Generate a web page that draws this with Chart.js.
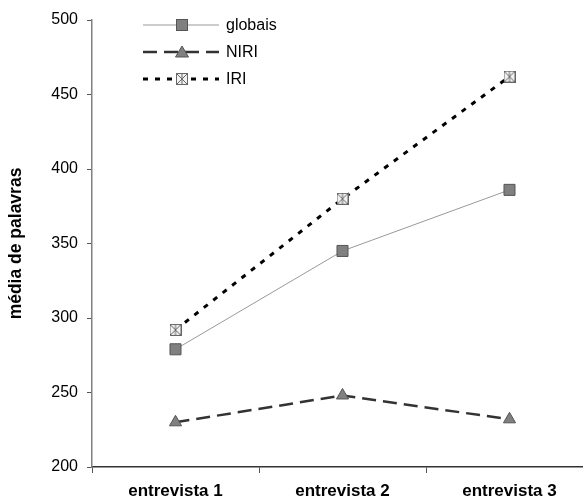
<!DOCTYPE html>
<html>
<head>
<meta charset="utf-8">
<script src="https://cdn.jsdelivr.net/npm/chart.js@4.4.0/dist/chart.umd.min.js"></script>
<style>
  html, body { margin: 0; padding: 0; background: #fff; overflow: hidden; }
  #wrap { width: 602px; height: 503px; }
</style>
</head>
<body>
<div id="wrap"><canvas id="myChart" width="602" height="503"></canvas></div>
<script>
var categories = ['entrevista 1', 'entrevista 2', 'entrevista 3'];
var globais = [279, 345, 386];
var niri = [230, 248, 232];
var iri = [292, 380, 462];
var yTicks = [200, 250, 300, 350, 400, 450, 500];

var FONT = '"Liberation Sans", Arial, sans-serif';

// square with a cross inside, used for IRI
function crossBox() {
    var c = document.createElement('canvas');
    c.width = 12; c.height = 12;
    var g = c.getContext('2d');
    g.fillStyle = '#f2f2f2';
    g.fillRect(0, 0, 12, 12);
    g.strokeStyle = '#666';
    g.lineWidth = 1;
    g.strokeRect(0.5, 0.5, 11, 11);
    g.beginPath();
    g.moveTo(1, 1); g.lineTo(11, 11);
    g.moveTo(11, 1); g.lineTo(1, 11);
    g.moveTo(6, 1); g.lineTo(6, 11);
    g.stroke();
    return c;
}
var iriMarker = crossBox();

// legend drawn as line + marker + text, like the original
var lineLegend = {
    id: 'lineLegend',
    afterDraw: function (chart) {
        var ctx = chart.ctx;
        var rows = [25, 52, 79];
        chart.data.datasets.forEach(function (ds, i) {
            var y = rows[i];
            ctx.save();
            ctx.strokeStyle = ds.borderColor;
            ctx.lineWidth = ds.borderWidth;
            ctx.setLineDash(ds.borderDash || []);
            ctx.beginPath();
            ctx.moveTo(143, y);
            ctx.lineTo(219, y);
            ctx.stroke();
            ctx.setLineDash([]);
            ctx.fillStyle = ds.pointBackgroundColor;
            ctx.strokeStyle = ds.pointBorderColor;
            ctx.lineWidth = 1;
            if (ds.pointStyle === 'rect') {
                ctx.fillRect(176.5, y - 5.5, 11, 11);
                ctx.strokeRect(176.5, y - 5.5, 11, 11);
            } else if (ds.pointStyle === 'triangle') {
                ctx.beginPath();
                ctx.moveTo(182, y - 6);
                ctx.lineTo(188.5, y + 5);
                ctx.lineTo(175.5, y + 5);
                ctx.closePath();
                ctx.fill();
                ctx.stroke();
            } else {
                ctx.drawImage(iriMarker, 176, y - 6);
            }
            ctx.fillStyle = '#000';
            ctx.font = '16px ' + FONT;
            ctx.textBaseline = 'middle';
            ctx.fillText(ds.label, 226, y + 1);
            ctx.restore();
        });
    }
};

var ctx = document.getElementById('myChart').getContext('2d');
var myChart = new Chart(ctx, {
    type: 'line',
    data: {
        labels: categories,
        datasets: [{
            label: 'globais',
            data: globais,
            borderColor: '#999999',
            borderWidth: 1,
            pointStyle: 'rect',
            pointRadius: 7.8,
            pointBackgroundColor: '#808080',
            pointBorderColor: '#555555',
            pointBorderWidth: 1
        }, {
            label: 'NIRI',
            data: niri,
            borderColor: '#333333',
            borderWidth: 2.5,
            borderDash: [14, 7],
            pointStyle: 'triangle',
            pointRadius: 7,
            pointBackgroundColor: '#808080',
            pointBorderColor: '#555555',
            pointBorderWidth: 1
        }, {
            label: 'IRI',
            data: iri,
            borderColor: '#000000',
            borderWidth: 3,
            borderDash: [5, 7],
            pointStyle: iriMarker,
            pointRadius: 6,
            pointBackgroundColor: '#f2f2f2',
            pointBorderColor: '#666666'
        }]
    },
    options: {
        responsive: false,
        animation: false,
        layout: { padding: { top: 20, left: 0, right: 0, bottom: 0 } },
        plugins: {
            legend: { display: false },
            tooltip: { enabled: false }
        },
        scales: {
            x: {
                offset: true,
                grid: {
                    offset: true,
                    drawOnChartArea: false,
                    drawTicks: true,
                    tickLength: 6,
                    color: '#555'
                },
                border: { color: '#333', width: 1.5 },
                ticks: {
                    color: '#000',
                    padding: 8,
                    maxRotation: 0,
                    font: { family: FONT, size: 17, weight: 'bold' }
                },
                afterFit: function (scale) { scale.height = 36; }
            },
            y: {
                min: 200,
                max: 500,
                afterBuildTicks: function (scale) {
                    scale.ticks = yTicks.map(function (v) { return { value: v }; });
                },
                grid: {
                    drawOnChartArea: false,
                    drawTicks: true,
                    tickLength: 5,
                    color: '#555'
                },
                border: { color: '#808080', width: 1.5 },
                ticks: {
                    color: '#000',
                    padding: 9,
                    font: { family: FONT, size: 16 }
                },
                title: {
                    display: true,
                    text: 'média de palavras',
                    color: '#000',
                    padding: { top: 6, bottom: 0 },
                    font: { family: FONT, size: 17.5, weight: 'bold' }
                },
                afterFit: function (scale) { scale.width = 92; }
            }
        }
    },
    plugins: [lineLegend]
});
</script>
</body>
</html>
